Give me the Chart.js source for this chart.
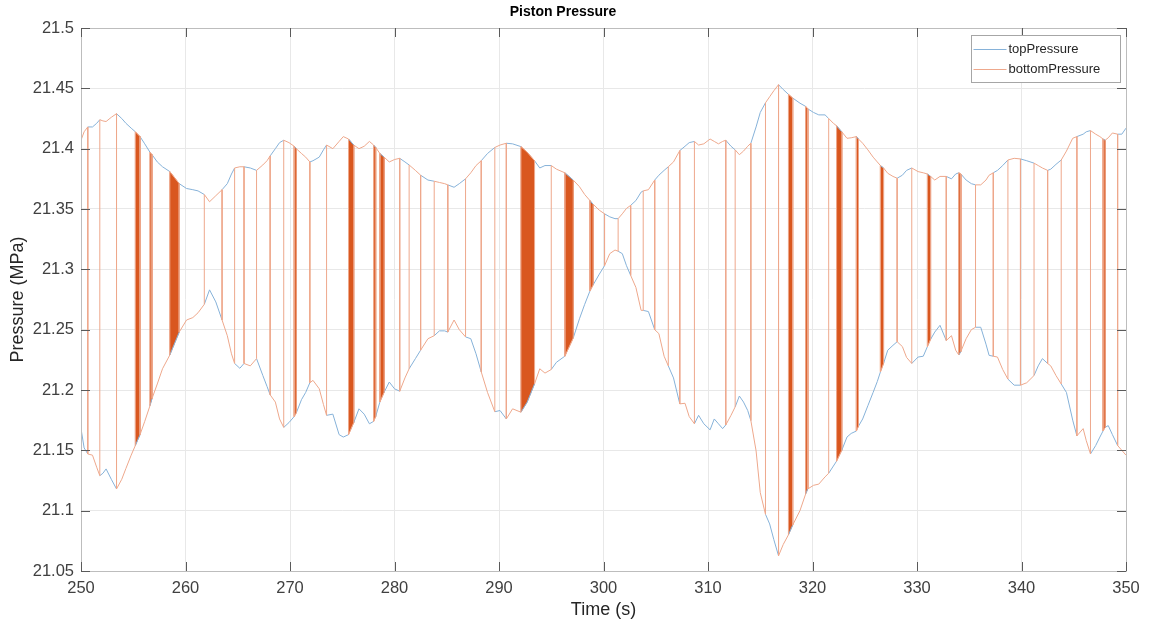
<!DOCTYPE html>
<html>
<head>
<meta charset="utf-8">
<title>Piston Pressure</title>
<script src="https://cdn.jsdelivr.net/npm/chart.js@4.4.1/dist/chart.umd.min.js"></script>
<style>
  html, body { margin: 0; padding: 0; background: #ffffff; }
  #wrap { width: 1152px; height: 626px; }
</style>
</head>
<body>
<div id="wrap"><canvas id="chart" width="1152" height="626"></canvas></div>
<script>
// Sample times (s) with the upper and lower pressure envelope (MPa) at each time.
const time = [
  250.0, 250.3, 250.65, 251.1, 251.5, 251.8, 252.1, 252.4, 252.9, 253.4,
  253.9, 254.3, 254.8, 255.2, 255.65, 256.1, 256.6, 256.8, 257.3, 257.8,
  258.5, 259.4, 260.1, 260.7, 261.2, 261.8, 262.3, 262.9, 263.5, 264.0,
  264.4, 264.7, 265.2, 265.6, 266.2, 266.8, 267.4, 267.8, 268.1, 268.6,
  269.0, 269.4, 269.9, 270.4, 270.6, 271.1, 271.5, 271.9, 272.2, 272.8,
  273.2, 273.5, 274.1, 274.7, 275.1, 275.6, 276.1, 276.6, 277.1, 277.6,
  278.0, 278.2, 278.6, 279.0, 279.5, 280.0, 280.5, 281.0, 281.4, 282.0,
  282.5, 283.2, 283.8, 284.3, 284.8, 285.1, 285.7, 286.2, 286.8, 287.3,
  287.8, 288.3, 288.9, 289.6, 290.1, 290.7, 291.3, 292.1, 292.7, 293.4,
  293.9, 294.4, 295.0, 295.5, 296.3, 297.1, 297.7, 298.2, 298.7, 299.0,
  299.6, 300.1, 300.6, 301.1, 301.4, 301.8, 302.2, 302.6, 303.1, 303.6,
  303.8, 304.3, 304.9, 305.3, 305.8, 306.2, 306.7, 307.3, 307.8, 308.2,
  308.7, 309.1, 309.6, 310.2, 310.6, 311.0, 311.4, 311.7, 312.2, 312.6,
  313.0, 313.4, 313.8, 314.1, 314.6, 315.0, 315.5, 315.9, 316.3, 316.75,
  317.2, 317.7, 318.1, 318.8, 319.35, 319.55, 320.1, 320.6, 321.2, 321.55,
  322.0, 322.3, 322.8, 323.3, 323.7, 324.2, 324.4, 324.8, 325.3, 325.8,
  326.2, 326.5, 326.8, 327.2, 327.7, 328.1, 328.6, 329.0, 329.5, 330.1,
  330.6, 331.0, 331.3, 331.7, 332.2, 332.8, 333.3, 333.7, 334.0, 334.2,
  334.7, 335.2, 335.6, 336.1, 336.6, 336.9, 337.3, 337.7, 338.2, 338.7,
  339.3, 339.9, 340.5, 341.2, 341.6, 342.0, 342.5, 342.8, 343.3, 343.8,
  344.3, 344.9, 345.3, 345.9, 346.2, 346.6, 347.1, 347.5, 347.8, 348.0,
  348.3, 348.7, 349.2, 349.6, 350.0
];

const upper = [
  21.407, 21.414, 21.418, 21.418, 21.421, 21.424, 21.423, 21.4225, 21.426, 21.429,
  21.425, 21.421, 21.417, 21.414, 21.410, 21.404, 21.397, 21.395, 21.389, 21.385,
  21.381, 21.371, 21.367, 21.366, 21.365, 21.362, 21.356, 21.361, 21.366, 21.371,
  21.379, 21.384, 21.385, 21.385, 21.384, 21.382, 21.3865, 21.390, 21.394, 21.400,
  21.405, 21.407, 21.405, 21.402, 21.400, 21.396, 21.393, 21.389, 21.390, 21.393,
  21.399, 21.403, 21.400, 21.406, 21.410, 21.408, 21.403, 21.400, 21.402, 21.406,
  21.403, 21.401, 21.396, 21.393, 21.389, 21.391, 21.392, 21.389, 21.3865, 21.382,
  21.378, 21.374, 21.373, 21.372, 21.371, 21.370, 21.368, 21.371, 21.375, 21.380,
  21.386, 21.390, 21.396, 21.401, 21.403, 21.4045, 21.404, 21.4017, 21.397, 21.390,
  21.384, 21.386, 21.386, 21.383, 21.380, 21.374, 21.3685, 21.362, 21.357, 21.354,
  21.349, 21.346, 21.3435, 21.342, 21.342, 21.346, 21.3505, 21.353, 21.357, 21.364,
  21.365, 21.366, 21.374, 21.378, 21.382, 21.385, 21.389, 21.3984, 21.402, 21.405,
  21.406, 21.403, 21.404, 21.408, 21.406, 21.404, 21.406, 21.407, 21.402, 21.399,
  21.395, 21.398, 21.402, 21.4045, 21.418, 21.430, 21.438, 21.443, 21.448, 21.453,
  21.449, 21.445, 21.442, 21.4377, 21.435, 21.433, 21.430, 21.428, 21.428, 21.425,
  21.421, 21.419, 21.414, 21.4086, 21.409, 21.410, 21.408, 21.4045, 21.399, 21.393,
  21.389, 21.386, 21.384, 21.3796, 21.377, 21.3755, 21.378, 21.382, 21.384, 21.381,
  21.380, 21.379, 21.377, 21.374, 21.377, 21.377, 21.375, 21.379, 21.380, 21.379,
  21.374, 21.371, 21.370, 21.370, 21.374, 21.378, 21.380, 21.382, 21.386, 21.3906,
  21.392, 21.3915, 21.390, 21.388, 21.386, 21.384, 21.382, 21.383, 21.387, 21.3906,
  21.398, 21.4086, 21.410, 21.412, 21.414, 21.415, 21.412, 21.410, 21.408, 21.407,
  21.409, 21.413, 21.412, 21.412, 21.417
];

const lower = [
  21.168, 21.152, 21.147, 21.146, 21.136, 21.129, 21.131, 21.1346, 21.126, 21.118,
  21.126, 21.135, 21.146, 21.154, 21.163, 21.174, 21.187, 21.193, 21.205, 21.2176,
  21.229, 21.248, 21.258, 21.260, 21.264, 21.271, 21.283, 21.273, 21.258, 21.245,
  21.230, 21.222, 21.218, 21.222, 21.220, 21.226, 21.212, 21.203, 21.196, 21.190,
  21.176, 21.169, 21.173, 21.178, 21.181, 21.192, 21.198, 21.206, 21.208, 21.201,
  21.188, 21.179, 21.180, 21.163, 21.161, 21.163, 21.173, 21.1844, 21.180, 21.172,
  21.174, 21.178, 21.190, 21.198, 21.2066, 21.201, 21.199, 21.210, 21.2176, 21.226,
  21.233, 21.2425, 21.245, 21.249, 21.249, 21.248, 21.258, 21.250, 21.244, 21.2425,
  21.230, 21.215, 21.198, 21.182, 21.183, 21.176, 21.1844, 21.1816, 21.190, 21.205,
  21.2176, 21.214, 21.217, 21.223, 21.228, 21.243, 21.259, 21.271, 21.282, 21.287,
  21.296, 21.303, 21.313, 21.316, 21.315, 21.313, 21.303, 21.295, 21.285, 21.266,
  21.266, 21.265, 21.250, 21.2467, 21.228, 21.220, 21.210, 21.1885, 21.189, 21.178,
  21.172, 21.179, 21.172, 21.167, 21.176, 21.172, 21.168, 21.171, 21.179, 21.186,
  21.195, 21.190, 21.183, 21.1747, 21.1497, 21.115, 21.097, 21.089, 21.076, 21.0626,
  21.072, 21.080, 21.088, 21.100, 21.114, 21.118, 21.121, 21.122, 21.128, 21.131,
  21.137, 21.141, 21.150, 21.161, 21.164, 21.166, 21.170, 21.176, 21.187, 21.198,
  21.207, 21.215, 21.222, 21.233, 21.237, 21.240, 21.236, 21.227, 21.222, 21.2273,
  21.228, 21.236, 21.242, 21.248, 21.2536, 21.241, 21.245, 21.233, 21.229, 21.232,
  21.2425, 21.250, 21.252, 21.252, 21.238, 21.2287, 21.228, 21.2273, 21.217, 21.209,
  21.204, 21.204, 21.206, 21.212, 21.220, 21.226, 21.222, 21.220, 21.212, 21.205,
  21.198, 21.175, 21.162, 21.168, 21.158, 21.147, 21.154, 21.161, 21.166, 21.169,
  21.1705, 21.163, 21.154, 21.150, 21.146
];

// Times at which the two pressures swap between the envelopes.
const jumpTimes = [
  250.65, 251.8, 253.4, 261.8, 263.5, 264.7, 265.6, 266.8, 268.1, 269.4,
  271.9, 273.5, 280.5, 281.4, 282.5, 283.8, 285.1, 286.8, 288.3, 289.6,
  290.7, 295.0, 300.1, 301.4, 302.6, 303.8, 304.9, 306.2, 307.3, 308.7,
  311.7, 312.6, 314.1, 315.5, 316.75, 321.55, 328.1, 329.5, 332.8, 335.6,
  337.3, 338.7, 339.9, 341.2, 342.5, 343.8, 345.3, 346.6, 349.2
];

// Intervals of rapid back-and-forth switching (start / end times, s).
const bandStart = [255.2, 256.6, 258.5, 270.4, 275.6, 278.0, 278.6, 292.1, 296.3,
                   298.7, 317.7, 319.35, 322.3, 324.2, 326.5, 331.0, 334.0, 347.8];
const bandEnd   = [255.65, 256.8, 259.4, 270.6, 276.1, 278.2, 279.0, 293.4, 297.1,
                   299.0, 318.1, 319.55, 322.8, 324.4, 326.8, 331.3, 334.2, 348.0];

const seriesNames = ['topPressure', 'bottomPressure'];
const seriesColors = ['#86b2d9', '#eea88c'];
const bandColor = '#d9571f';

const xTicks = { min: 250, max: 350, step: 10 };
const yTicks = { min: 21.05, max: 21.5, step: 0.05 };

// ---- build the datasets ----
const same = (a, b) => Math.abs(a - b) < 1e-9;
const indexOfTime = t => time.findIndex(v => same(v, t));
const switchTimes = jumpTimes.concat(bandStart, bandEnd);
const isSwitch = t => switchTimes.some(s => same(s, t));

// the two pressures sit on opposite envelopes and swap at every switch time
function tracePressure(startHigh) {
  let high = startHigh;
  const pts = [];
  for (let i = 0; i < time.length; i++) {
    pts.push({ x: time[i], y: high ? upper[i] : lower[i] });
    if (isSwitch(time[i])) {
      high = !high;
      pts.push({ x: time[i], y: high ? upper[i] : lower[i] });
    }
  }
  return pts;
}

function bandShape(k) {
  const i0 = indexOfTime(bandStart[k]);
  const i1 = indexOfTime(bandEnd[k]);
  const pts = [];
  for (let i = i0; i <= i1; i++) pts.push({ x: time[i], y: upper[i] });
  for (let i = i1; i >= i0; i--) pts.push({ x: time[i], y: lower[i] });
  pts.push({ x: time[i0], y: upper[i0] });
  return pts;
}

// vertical swaps of the blue trace sit under the orange ones; keep them hidden
const hideVertical = c => (c.p0.parsed.x === c.p1.parsed.x ? 'rgba(0,0,0,0)' : undefined);

const datasets = [
  { label: seriesNames[0], data: tracePressure(false), borderColor: seriesColors[0],
    borderWidth: 1, pointRadius: 0, fill: false, tension: 0, order: 1,
    segment: { borderColor: hideVertical } },
  { label: seriesNames[1], data: tracePressure(true), borderColor: seriesColors[1],
    borderWidth: 1, pointRadius: 0, fill: false, tension: 0, order: 0 }
];
for (let k = 0; k < bandStart.length; k++) {
  datasets.push({ label: '', data: bandShape(k), borderColor: bandColor,
    backgroundColor: bandColor, borderWidth: 0.5, pointRadius: 0,
    fill: 'shape', tension: 0, order: 2 });
}

const FONT = '"Liberation Sans", Arial, sans-serif';

// ---- box, inward ticks and in-axes legend ----
const axesFrame = {
  id: 'axesFrame',
  afterDraw(chart) {
    const { ctx, chartArea: a, scales } = chart;
    ctx.save();
    ctx.strokeStyle = '#bdbdbd';
    ctx.lineWidth = 1;
    ctx.strokeRect(Math.round(a.left) + 0.5, Math.round(a.top) + 0.5,
                   Math.round(a.right - a.left), Math.round(a.bottom - a.top));
    ctx.strokeStyle = '#5a5a5a';
    ctx.beginPath();
    const tl = 9;
    scales.x.ticks.forEach(t => {
      const px = Math.round(scales.x.getPixelForValue(t.value)) + 0.5;
      ctx.moveTo(px, a.bottom); ctx.lineTo(px, a.bottom - tl);
      ctx.moveTo(px, a.top); ctx.lineTo(px, a.top + tl);
    });
    scales.y.ticks.forEach(t => {
      const py = Math.round(scales.y.getPixelForValue(t.value)) + 0.5;
      ctx.moveTo(a.left, py); ctx.lineTo(a.left + tl, py);
      ctx.moveTo(a.right, py); ctx.lineTo(a.right - tl, py);
    });
    ctx.stroke();

    // legend box in the upper right corner of the axes
    const bx = 971.5, by = 35.5, bw = 149, bh = 47;
    ctx.fillStyle = '#ffffff';
    ctx.fillRect(bx, by, bw, bh);
    ctx.strokeStyle = '#a6a6a6';
    ctx.strokeRect(bx, by, bw, bh);
    ctx.font = '13px ' + FONT;
    ctx.textBaseline = 'middle';
    ctx.fillStyle = '#262626';
    seriesNames.forEach((name, i) => {
      const y = Math.round(by + 13 + i * 20) + 0.5;
      ctx.beginPath();
      ctx.strokeStyle = seriesColors[i];
      ctx.lineWidth = 1;
      ctx.moveTo(bx + 2, y); ctx.lineTo(bx + 35, y);
      ctx.stroke();
      ctx.fillText(name, bx + 37, y);
    });
    ctx.restore();
  }
};

const fmt = v => String(Number(v.toFixed(2)));

new Chart(document.getElementById('chart'), {
  type: 'line',
  data: { datasets },
  options: {
    responsive: false,
    animation: false,
    layout: { padding: { left: 0, right: 26, top: 0, bottom: 0 } },
    plugins: {
      legend: { display: false },
      tooltip: { enabled: false },
      title: {
        display: true, text: 'Piston Pressure', color: '#000000',
        font: { family: FONT, size: 14, weight: 'bold' },
        padding: { top: 4, bottom: 7.2 }
      }
    },
    scales: {
      x: {
        type: 'linear', min: xTicks.min, max: xTicks.max,
        ticks: { stepSize: xTicks.step, color: '#404040', padding: 8,
                 font: { family: FONT, size: 16.5 } },
        grid: { color: '#e8e8e8', drawTicks: false },
        border: { display: false },
        title: { display: true, text: 'Time (s)', color: '#262626',
                 font: { family: FONT, size: 18 },
                 padding: { top: 0, bottom: 5 } },
        afterFit: s => { s.height = 55; }
      },
      y: {
        type: 'linear', min: yTicks.min, max: yTicks.max,
        ticks: { stepSize: yTicks.step, color: '#404040', padding: 7,
                 callback: v => fmt(v),
                 font: { family: FONT, size: 16.5 } },
        grid: { color: '#e8e8e8', drawTicks: false },
        border: { display: false },
        title: { display: true, text: 'Pressure (MPa)', color: '#262626',
                 font: { family: FONT, size: 18 },
                 padding: { top: 7, bottom: 0 } },
        afterFit: s => { s.width = 81; }
      }
    }
  },
  plugins: [axesFrame]
});
</script>
</body>
</html>
